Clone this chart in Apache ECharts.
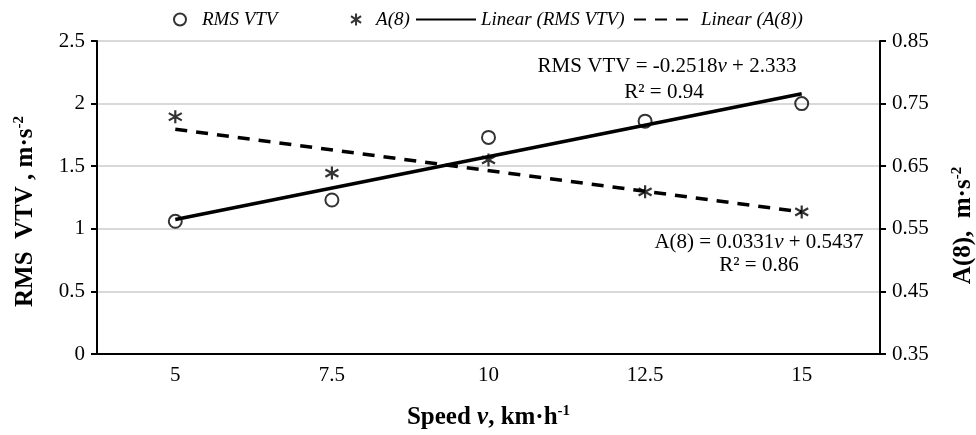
<!DOCTYPE html>
<html>
<head>
<meta charset="utf-8">
<title>RMS VTV and A(8) vs speed</title>
<script src="https://cdn.jsdelivr.net/npm/echarts@6/dist/echarts.min.js"></script>
<style>
  html, body { margin: 0; padding: 0; background: #fff; }
  #chart { width: 976px; height: 435px; }
</style>
</head>
<body>
<div id="chart"></div>
<script>
// data
var speeds = ['5', '7.5', '10', '12.5', '15'];
var rmsVtv = [1.06, 1.23, 1.73, 1.86, 2.0];
var a8 = [0.729, 0.639, 0.66, 0.609, 0.577];
// trend line ends (at 5 and 15 km/h)
var rmsTrend = [1.074, null, null, null, 2.078];
var a8Trend = [0.709, null, null, null, 0.577];

var FONT = '"Liberation Serif", "Times New Roman", serif';
var star = 'path://M5,0L5,10M0.8,2.2L9.2,7.8M9.2,2.2L0.8,7.8';

var chart = echarts.init(document.getElementById('chart'));

function legendAt(name, left, w, lineOnly, pad) {
  var l = {
    data: [name], left: left, top: 5,
    itemWidth: w, itemHeight: 12, itemGap: 0,
    textStyle: { fontFamily: FONT, fontStyle: 'italic', fontSize: 19, color: '#000', padding: [0, 0, 0, pad] }
  };
  if (lineOnly) l.itemStyle = { opacity: 0 };
  return l;
}

var titleRich = {
  b: { fontFamily: FONT, fontWeight: 'bold', fontSize: 25, color: '#000' },
  bi: { fontFamily: FONT, fontWeight: 'bold', fontStyle: 'italic', fontSize: 25, color: '#000' },
  sup: { fontFamily: FONT, fontWeight: 'bold', fontSize: 15, color: '#000', verticalAlign: 'top', padding: [0, 0, 12, 0] }
};

var option = {
  animation: false,
  textStyle: { fontFamily: FONT },
  legend: [
    legendAt('RMS VTV', 168, 14, false, 10),
    legendAt('A(8)', 345, 14, false, 8),
    legendAt('Linear (RMS VTV)', 410, 60, true, 0),
    legendAt('Linear (A(8))', 628, 62, true, 0)
  ],
  grid: { left: 97, right: 96, top: 41, bottom: 81, outerBoundsMode: 'none', containLabel: false },
  xAxis: {
    type: 'category',
    data: speeds,
    boundaryGap: true,
    axisLine: { lineStyle: { color: '#000', width: 2 } },
    axisTick: { alignWithLabel: true, length: 6, lineStyle: { color: '#000', width: 2 } },
    axisLabel: { color: '#000', fontSize: 21, fontFamily: FONT, margin: 11 },
    name: '{b|Speed }{bi|v}{b|, km·h}{sup|-1}',
    nameLocation: 'middle',
    nameGap: 50,
    nameTextStyle: { rich: titleRich }
  },
  yAxis: [
    {
      type: 'value', min: 0, max: 2.5, interval: 0.5,
      axisLine: { show: true, lineStyle: { color: '#000', width: 2 } },
      axisTick: { show: true, length: 6, lineStyle: { color: '#000', width: 2 } },
      axisLabel: { color: '#000', fontSize: 21, fontFamily: FONT, margin: 12 },
      splitLine: { lineStyle: { color: '#d9d9d9', width: 2 } },
      name: '{b|RMS  VTV , m·s}{sup|-2}',
      nameLocation: 'middle',
      nameRotate: 90,
      nameGap: 58,
      nameTextStyle: { padding: [0, 28, 0, 0], rich: titleRich }
    },
    {
      type: 'value', min: 0.35, max: 0.85, interval: 0.1,
      position: 'right',
      axisLine: { show: true, lineStyle: { color: '#000', width: 2 } },
      axisTick: { show: true, length: 6, lineStyle: { color: '#000', width: 2 } },
      axisLabel: {
        color: '#000', fontSize: 21, fontFamily: FONT, margin: 12,
        formatter: function (v) { return v.toFixed(2); }
      },
      splitLine: { show: false },
      name: '{b|A(8),  m·s}{sup|-2}',
      nameLocation: 'middle',
      nameRotate: 90,
      nameGap: 70,
      nameTextStyle: { padding: [0, 56, 0, 0], rich: titleRich }
    }
  ],
  graphic: [
    {
      type: 'text', x: 667, y: 66, z: 10,
      style: {
        text: '{n|RMS VTV = -0.2518}{i|v}{n| + 2.333}',
        align: 'center', verticalAlign: 'middle',
        rich: {
          n: { fontFamily: FONT, fontSize: 21, fill: '#000' },
          i: { fontFamily: FONT, fontSize: 21, fontStyle: 'italic', fill: '#000' }
        }
      }
    },
    {
      type: 'text', x: 664, y: 92, z: 10,
      style: { text: 'R² = 0.94', font: '21px ' + FONT, fill: '#000', align: 'center', verticalAlign: 'middle' }
    },
    {
      type: 'text', x: 759, y: 242, z: 10,
      style: {
        text: '{n|A(8) = 0.0331}{i|v}{n| + 0.5437}',
        align: 'center', verticalAlign: 'middle',
        rich: {
          n: { fontFamily: FONT, fontSize: 21, fill: '#000' },
          i: { fontFamily: FONT, fontSize: 21, fontStyle: 'italic', fill: '#000' }
        }
      }
    },
    {
      type: 'text', x: 759, y: 265, z: 10,
      style: { text: 'R² = 0.86', font: '21px ' + FONT, fill: '#000', align: 'center', verticalAlign: 'middle' }
    }
  ],
  series: [
    {
      name: 'RMS VTV', type: 'scatter', yAxisIndex: 0, data: rmsVtv, z: 5,
      symbol: 'circle', symbolSize: 13,
      itemStyle: { color: 'rgba(255,255,255,0)', borderColor: '#000', borderWidth: 2 }
    },
    {
      name: 'A(8)', type: 'scatter', yAxisIndex: 1, data: a8, z: 5,
      symbol: star, symbolSize: [13, 13],
      itemStyle: { color: 'rgba(0,0,0,0)', borderColor: '#000', borderWidth: 2.2 }
    },
    {
      name: 'Linear (RMS VTV)', type: 'line', yAxisIndex: 0, data: rmsTrend, connectNulls: true,
      symbol: 'none', z: 3,
      lineStyle: { color: '#000', width: 3.5, type: 'solid' },
      itemStyle: { color: '#000' }
    },
    {
      name: 'Linear (A(8))', type: 'line', yAxisIndex: 1, data: a8Trend, connectNulls: true,
      symbol: 'none', z: 3,
      lineStyle: { color: '#000', width: 3.5, type: [12, 9] },
      itemStyle: { color: '#000' }
    }
  ]
};

chart.setOption(option);
</script>
</body>
</html>
